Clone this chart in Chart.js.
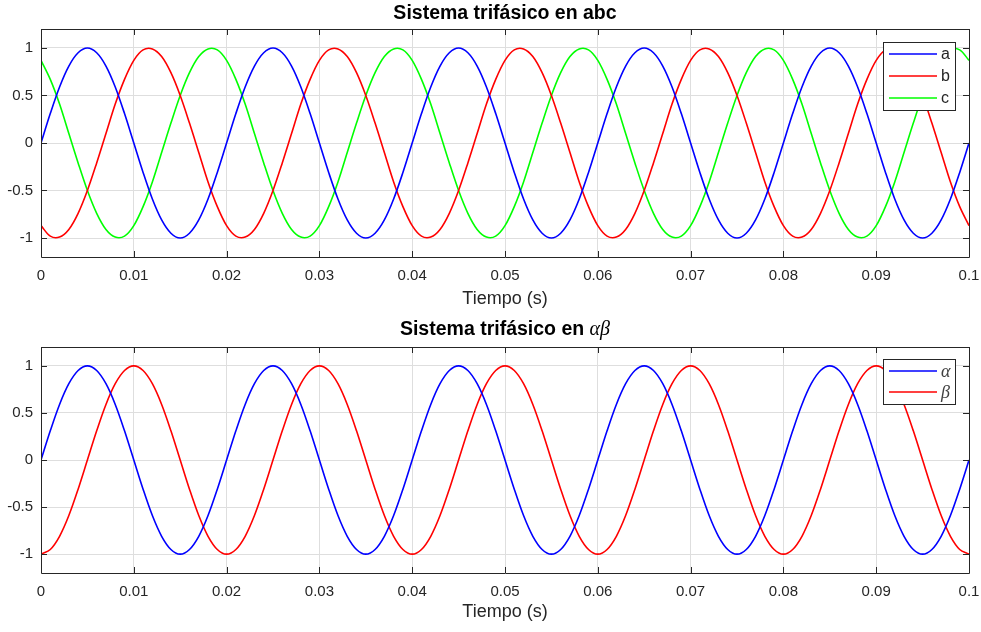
<!DOCTYPE html>
<html>
<head>
<meta charset="utf-8">
<script src="https://cdn.jsdelivr.net/npm/chart.js@4"></script>
<style>
  body { margin: 0; background: #fff; }
  canvas { display: block; }
</style>
</head>
<body>
<canvas id="abcChart" width="981" height="316"></canvas>
<canvas id="abChart" width="981" height="316"></canvas>
<script>
// tiempo (s), cada 1 ms
var tiempo = [0,0.001,0.002,0.003,0.004,0.005,0.006,0.007,0.008,0.009,
  0.01,0.011,0.012,0.013,0.014,0.015,0.016,0.017,0.018,0.019,
  0.02,0.021,0.022,0.023,0.024,0.025,0.026,0.027,0.028,0.029,
  0.03,0.031,0.032,0.033,0.034,0.035,0.036,0.037,0.038,0.039,
  0.04,0.041,0.042,0.043,0.044,0.045,0.046,0.047,0.048,0.049,
  0.05,0.051,0.052,0.053,0.054,0.055,0.056,0.057,0.058,0.059,
  0.06,0.061,0.062,0.063,0.064,0.065,0.066,0.067,0.068,0.069,
  0.07,0.071,0.072,0.073,0.074,0.075,0.076,0.077,0.078,0.079,
  0.08,0.081,0.082,0.083,0.084,0.085,0.086,0.087,0.088,0.089,
  0.09,0.091,0.092,0.093,0.094,0.095,0.096,0.097,0.098,0.099,0.1];

var faseA = [0,0.31,0.59,0.81,0.95,1,0.95,0.81,0.59,0.31,0,-0.31,-0.59,-0.81,-0.95,-1,-0.95,-0.81,-0.59,-0.31,
  0,0.31,0.59,0.81,0.95,1,0.95,0.81,0.59,0.31,0,-0.31,-0.59,-0.81,-0.95,-1,-0.95,-0.81,-0.59,-0.31,
  0,0.31,0.59,0.81,0.95,1,0.95,0.81,0.59,0.31,0,-0.31,-0.59,-0.81,-0.95,-1,-0.95,-0.81,-0.59,-0.31,
  0,0.31,0.59,0.81,0.95,1,0.95,0.81,0.59,0.31,0,-0.31,-0.59,-0.81,-0.95,-1,-0.95,-0.81,-0.59,-0.31,
  0,0.31,0.59,0.81,0.95,1,0.95,0.81,0.59,0.31,0,-0.31,-0.59,-0.81,-0.95,-1,-0.95,-0.81,-0.59,-0.31,0];

var faseB = [-0.87,-0.98,-0.99,-0.91,-0.74,-0.5,-0.21,0.1,0.41,0.67,0.87,0.98,0.99,0.91,0.74,0.5,0.21,-0.1,-0.41,-0.67,
  -0.87,-0.98,-0.99,-0.91,-0.74,-0.5,-0.21,0.1,0.41,0.67,0.87,0.98,0.99,0.91,0.74,0.5,0.21,-0.1,-0.41,-0.67,
  -0.87,-0.98,-0.99,-0.91,-0.74,-0.5,-0.21,0.1,0.41,0.67,0.87,0.98,0.99,0.91,0.74,0.5,0.21,-0.1,-0.41,-0.67,
  -0.87,-0.98,-0.99,-0.91,-0.74,-0.5,-0.21,0.1,0.41,0.67,0.87,0.98,0.99,0.91,0.74,0.5,0.21,-0.1,-0.41,-0.67,
  -0.87,-0.98,-0.99,-0.91,-0.74,-0.5,-0.21,0.1,0.41,0.67,0.87,0.98,0.99,0.91,0.74,0.5,0.21,-0.1,-0.41,-0.67,-0.87];

var faseC = [0.87,0.67,0.41,0.1,-0.21,-0.5,-0.74,-0.91,-0.99,-0.98,-0.87,-0.67,-0.41,-0.1,0.21,0.5,0.74,0.91,0.99,0.98,
  0.87,0.67,0.41,0.1,-0.21,-0.5,-0.74,-0.91,-0.99,-0.98,-0.87,-0.67,-0.41,-0.1,0.21,0.5,0.74,0.91,0.99,0.98,
  0.87,0.67,0.41,0.1,-0.21,-0.5,-0.74,-0.91,-0.99,-0.98,-0.87,-0.67,-0.41,-0.1,0.21,0.5,0.74,0.91,0.99,0.98,
  0.87,0.67,0.41,0.1,-0.21,-0.5,-0.74,-0.91,-0.99,-0.98,-0.87,-0.67,-0.41,-0.1,0.21,0.5,0.74,0.91,0.99,0.98,
  0.87,0.67,0.41,0.1,-0.21,-0.5,-0.74,-0.91,-0.99,-0.98,-0.87,-0.67,-0.41,-0.1,0.21,0.5,0.74,0.91,0.99,0.98,0.87];

var alfa = faseA;

var beta = [-1,-0.95,-0.81,-0.59,-0.31,0,0.31,0.59,0.81,0.95,1,0.95,0.81,0.59,0.31,0,-0.31,-0.59,-0.81,-0.95,
  -1,-0.95,-0.81,-0.59,-0.31,0,0.31,0.59,0.81,0.95,1,0.95,0.81,0.59,0.31,0,-0.31,-0.59,-0.81,-0.95,
  -1,-0.95,-0.81,-0.59,-0.31,0,0.31,0.59,0.81,0.95,1,0.95,0.81,0.59,0.31,0,-0.31,-0.59,-0.81,-0.95,
  -1,-0.95,-0.81,-0.59,-0.31,0,0.31,0.59,0.81,0.95,1,0.95,0.81,0.59,0.31,0,-0.31,-0.59,-0.81,-0.95,
  -1,-0.95,-0.81,-0.59,-0.31,0,0.31,0.59,0.81,0.95,1,0.95,0.81,0.59,0.31,0,-0.31,-0.59,-0.81,-0.95,-1];

var xTicks = [0,0.01,0.02,0.03,0.04,0.05,0.06,0.07,0.08,0.09,0.1];
var yTicks = [-1,-0.5,0,0.5,1];

var AXIS = '#262626';
var FONT = "'Liberation Sans', Arial, sans-serif";

function puntos(ys) {
  return tiempo.map(function (t, i) { return { x: t, y: ys[i] }; });
}

function serie(label, ys, color) {
  return {
    label: label,
    data: puntos(ys),
    borderColor: color,
    backgroundColor: color,
    borderWidth: 1.6,
    pointRadius: 0,
    fill: false,
    tension: 0.33
  };
}

// titulo, etiqueta x, marco con ticks hacia dentro y leyenda
var matlabPlugin = {
  id: 'matlab',
  afterDraw: function (chart) {
    var ctx = chart.ctx;
    var a = chart.chartArea;
    var o = chart.options.plugins.matlab;
    var xs = chart.scales.x, ys = chart.scales.y;
    ctx.save();

    // marco
    ctx.strokeStyle = AXIS;
    ctx.lineWidth = 1;
    ctx.beginPath();
    ctx.rect(Math.round(a.left) + 0.5, Math.round(a.top) + 0.5,
      Math.round(a.right - a.left), Math.round(a.bottom - a.top));
    ctx.stroke();
    ctx.beginPath();
    xTicks.forEach(function (v) {
      var px = Math.round(xs.getPixelForValue(v)) + 0.5;
      ctx.moveTo(px, a.bottom); ctx.lineTo(px, a.bottom - 6);
      ctx.moveTo(px, a.top); ctx.lineTo(px, a.top + 6);
    });
    yTicks.forEach(function (v) {
      var py = Math.round(ys.getPixelForValue(v)) + 0.5;
      ctx.moveTo(a.left, py); ctx.lineTo(a.left + 6, py);
      ctx.moveTo(a.right, py); ctx.lineTo(a.right - 6, py);
    });
    ctx.stroke();

    // titulo
    var cx = (a.left + a.right) / 2;
    var w = 0;
    o.title.forEach(function (p) { ctx.font = p.font; w += ctx.measureText(p.text).width; });
    var x0 = cx - w / 2;
    ctx.fillStyle = '#000';
    ctx.textBaseline = 'middle';
    ctx.textAlign = 'left';
    o.title.forEach(function (p) {
      ctx.font = p.font;
      ctx.fillText(p.text, x0, o.titleY);
      x0 += ctx.measureText(p.text).width;
    });

    // etiqueta eje x
    ctx.font = '18px ' + FONT;
    ctx.fillStyle = AXIS;
    ctx.textAlign = 'center';
    ctx.fillText('Tiempo (s)', cx, o.xlabelY);

    // leyenda
    var L = o.legend;
    var bx = a.right - L.right - L.width;
    var by = a.top + L.top;
    var n = chart.data.datasets.length;
    var bh = L.pad * 2 + L.row * (n - 1) + 4;
    ctx.fillStyle = '#fff';
    ctx.fillRect(bx, by, L.width, bh);
    ctx.strokeStyle = AXIS;
    ctx.lineWidth = 1;
    ctx.strokeRect(Math.round(bx) + 0.5, Math.round(by) + 0.5, L.width, bh);
    chart.data.datasets.forEach(function (d, i) {
      var ry = by + L.pad + 2 + i * L.row;
      ctx.strokeStyle = d.borderColor;
      ctx.lineWidth = 1.6;
      ctx.beginPath();
      ctx.moveTo(bx + 6, ry); ctx.lineTo(bx + 54, ry);
      ctx.stroke();
      ctx.fillStyle = L.color;
      ctx.font = L.font;
      ctx.textAlign = 'left';
      ctx.fillText(d.label, bx + 58, ry + 1);
    });
    ctx.restore();
  }
};

function opciones(top, title, titleY, xlabelY, legend) {
  return {
    responsive: false,
    animation: false,
    layout: { padding: { top: top, right: 12, left: 0, bottom: 0 } },
    plugins: {
      legend: { display: false },
      tooltip: { enabled: false },
      matlab: { title: title, titleY: titleY, xlabelY: xlabelY, legend: legend }
    },
    scales: {
      x: {
        type: 'linear', min: 0, max: 0.1,
        afterFit: function (s) { s.height = 59; s.paddingLeft = 0; s.paddingRight = 0; },
        afterBuildTicks: function (s) { s.ticks = xTicks.map(function (v) { return { value: v }; }); },
        ticks: {
          padding: 10, color: AXIS, maxRotation: 0,
          font: { family: FONT, size: 15 },
          callback: function (v) { return String(+v.toFixed(3)); }
        },
        grid: { color: '#dedede', lineWidth: 1, drawTicks: false },
        border: { display: false }
      },
      y: {
        min: -1.2, max: 1.2,
        afterFit: function (s) { s.width = 41; s.paddingTop = 0; s.paddingBottom = 0; },
        afterBuildTicks: function (s) { s.ticks = yTicks.map(function (v) { return { value: v }; }); },
        ticks: {
          padding: 8, color: AXIS,
          font: { family: FONT, size: 15 },
          callback: function (v) { return String(v); }
        },
        grid: { color: '#dedede', lineWidth: 1, drawTicks: false },
        border: { display: false }
      }
    }
  };
}

new Chart('abcChart', {
  type: 'line',
  data: {
    datasets: [
      serie('a', faseA, '#0000ff'),
      serie('b', faseB, '#ff0000'),
      serie('c', faseC, '#00ff00')
    ]
  },
  options: opciones(29,
    [{ text: 'Sistema trifásico en abc', font: 'bold 19.5px ' + FONT }],
    14, 299,
    { right: 14, top: 13, width: 72, pad: 10, row: 22, font: '16px ' + FONT, color: AXIS }),
  plugins: [matlabPlugin]
});

new Chart('abChart', {
  type: 'line',
  data: {
    datasets: [
      serie('α', alfa, '#0000ff'),
      serie('β', beta, '#ff0000')
    ]
  },
  options: opciones(31,
    [{ text: 'Sistema trifásico en ', font: 'bold 19.5px ' + FONT },
     { text: 'αβ', font: "italic 20px 'Liberation Serif', 'DejaVu Serif', serif" }],
    14, 296,
    { right: 14, top: 12, width: 72, pad: 10, row: 21, font: "italic 18px 'Liberation Serif', 'DejaVu Serif', serif", color: '#404040' }),
  plugins: [matlabPlugin]
});
</script>
</body>
</html>
